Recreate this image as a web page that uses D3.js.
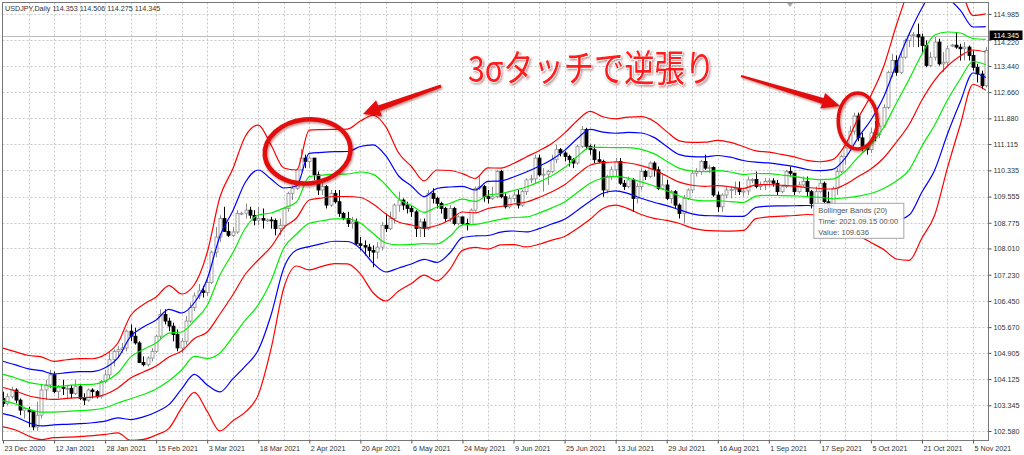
<!DOCTYPE html>
<html>
<head>
<meta charset="utf-8">
<script src="https://cdn.jsdelivr.net/npm/d3@7"></script>
<style>
    body { margin: 0; background: #fff; }
    svg { display: block; font-family: 'Liberation Sans', Arial, sans-serif; }
</style>
</head>
<body>
<svg id="chart" width="1024" height="455"></svg>
<script>
/* global d3 */
// date labels, one every 12 bars
const xLabels = ['23 Dec 2020', '12 Jan 2021', '28 Jan 2021', '15 Feb 2021', '3 Mar 2021', '18 Mar 2021',
    '2 Apr 2021', '20 Apr 2021', '6 May 2021', '24 May 2021', '9 Jun 2021', '25 Jun 2021', '13 Jul 2021',
    '29 Jul 2021', '16 Aug 2021', '1 Sep 2021', '17 Sep 2021', '5 Oct 2021', '21 Oct 2021', '5 Nov 2021'];
const labelEvery = 12;

const priceTicks = [102.580, 103.345, 104.125, 104.905, 105.670, 106.450, 107.230, 108.010, 108.775,
    109.555, 110.335, 111.115, 111.880, 112.660, 113.440, 114.220, 114.985];

// daily candles USDJPY, 23 Dec 2020 -> 10 Nov 2021
const open = [
    103.55, 103.40, 103.60, 103.80, 103.50, 103.20, 103.20, 103.15, 102.70, 103.05,
    103.80, 103.95, 104.25, 103.75, 103.88, 103.85, 103.85, 103.70, 103.90, 103.55,
    103.50, 103.80, 103.75, 103.60, 104.05, 104.25, 104.70, 104.95, 105.00, 105.05,
    105.55, 105.40, 105.20, 104.62, 104.55, 104.75, 104.95, 105.40, 106.05, 105.85,
    105.70, 105.45, 105.05, 105.25, 105.85, 106.25, 106.60, 106.75, 106.70, 107.00,
    107.90, 108.35, 108.90, 108.52, 108.40, 108.50, 109.05, 109.06, 109.15, 108.99,
    108.85, 108.90, 108.85, 108.86, 108.84, 108.60, 108.70, 109.20, 109.65, 109.80,
    110.35, 110.70, 110.60, 110.70, 110.20, 109.75, 109.85, 109.30, 109.65, 109.40,
    109.05, 108.90, 108.75, 108.80, 108.15, 108.10, 108.05, 107.95, 107.90, 108.05,
    108.70, 108.60, 108.90, 109.30, 109.45, 109.30, 109.20, 109.10, 108.60, 108.80,
    108.60, 109.65, 109.50, 109.35, 109.20, 108.90, 109.20, 108.75, 108.95, 108.75,
    108.73, 109.15, 109.80, 109.85, 109.55, 109.50, 109.55, 110.30, 109.55, 109.25,
    109.50, 109.60, 109.30, 109.70, 110.05, 110.08, 110.70, 110.20, 110.22, 110.30,
    110.65, 110.95, 110.85, 110.75, 110.65, 110.55, 111.05, 111.55, 111.05, 110.95,
    110.65, 110.60, 109.75, 110.15, 110.35, 110.60, 109.95, 109.85, 110.05, 109.50,
    109.85, 110.30, 110.15, 110.55, 110.35, 109.80, 109.90, 109.50, 109.70, 109.30,
    109.05, 109.50, 109.75, 110.25, 110.30, 110.60, 110.40, 110.42, 109.60, 109.25,
    109.60, 109.75, 109.76, 109.80, 109.70, 109.72, 110.05, 110.06, 109.85, 109.90,
    110.00, 110.02, 109.95, 109.70, 109.85, 110.30, 110.25, 109.70, 109.90, 110.00,
    109.70, 109.35, 109.70, 109.95, 109.40, 109.25, 109.80, 110.30, 110.75, 111.00,
    111.50, 111.95, 111.30, 111.05, 110.95, 111.45, 111.40, 111.65, 112.20, 113.25,
    113.60, 113.25, 113.70, 114.20, 114.35, 114.37, 114.30, 114.05, 113.45, 113.70,
    114.15, 113.50, 113.55, 114.05, 114.06, 114.00, 113.95, 114.00, 113.75, 113.40,
    113.20, 112.85
];
const high = [
    103.75, 103.70, 103.90, 103.85, 103.55, 103.30, 103.30, 103.20, 103.45, 103.95,
    104.10, 104.40, 104.35, 103.95, 104.10, 103.95, 103.95, 104.10, 103.95, 103.70,
    103.85, 103.85, 103.80, 104.10, 104.40, 104.95, 105.00, 105.10, 105.20, 105.60,
    105.75, 105.65, 105.25, 104.80, 104.80, 105.05, 105.45, 106.20, 106.20, 105.95,
    105.80, 105.60, 105.35, 106.00, 106.40, 106.70, 106.95, 106.90, 107.15, 107.95,
    108.65, 109.00, 109.25, 108.80, 108.65, 109.15, 109.10, 109.35, 109.25, 109.15,
    109.25, 109.20, 108.90, 108.95, 108.90, 108.90, 109.25, 109.70, 109.85, 110.40,
    110.97, 110.80, 110.75, 110.70, 110.30, 110.00, 109.90, 109.75, 109.75, 109.75,
    109.10, 109.10, 108.95, 108.90, 108.35, 108.25, 108.15, 108.10, 108.20, 108.80,
    109.05, 109.10, 109.35, 109.70, 109.50, 109.40, 109.30, 109.15, 108.90, 108.90,
    109.75, 109.80, 109.55, 109.40, 109.25, 109.30, 109.25, 109.00, 108.95, 108.90,
    109.20, 109.85, 110.20, 109.90, 109.75, 109.85, 110.35, 110.35, 109.65, 109.60,
    109.70, 109.75, 109.75, 110.10, 110.20, 110.80, 110.80, 110.40, 110.35, 110.80,
    111.10, 111.00, 110.90, 110.80, 110.70, 111.10, 111.65, 111.60, 111.10, 111.10,
    110.90, 110.65, 110.20, 110.45, 110.70, 110.70, 110.05, 110.15, 110.10, 109.95,
    110.40, 110.35, 110.60, 110.60, 110.45, 110.20, 110.05, 109.75, 109.75, 109.35,
    109.60, 109.80, 110.35, 110.40, 110.65, 110.80, 110.50, 110.45, 109.70, 109.65,
    109.85, 109.85, 110.00, 110.00, 109.80, 110.15, 110.10, 110.30, 110.00, 110.10,
    110.10, 110.10, 110.05, 109.90, 110.35, 110.45, 110.25, 110.00, 110.15, 110.15,
    109.75, 109.85, 110.05, 110.00, 109.70, 109.85, 110.40, 110.80, 111.05, 111.65,
    112.05, 112.05, 111.45, 111.10, 111.60, 111.80, 111.75, 112.30, 113.30, 113.80,
    113.75, 113.85, 114.25, 114.45, 114.45, 114.70, 114.40, 114.20, 113.85, 114.30,
    114.25, 113.85, 114.05, 114.10, 114.45, 114.10, 114.15, 114.05, 113.90, 113.50,
    113.30, 114.00
];
const low = [
    103.30, 103.35, 103.55, 103.40, 103.05, 102.95, 102.70, 102.60, 102.58, 102.95,
    103.50, 103.85, 103.70, 103.55, 103.65, 103.55, 103.55, 103.65, 103.50, 103.35,
    103.45, 103.55, 103.55, 103.55, 104.00, 104.15, 104.50, 104.75, 104.90, 104.95,
    105.25, 105.15, 104.60, 104.50, 104.50, 104.65, 104.90, 105.30, 105.75, 105.55,
    105.25, 104.95, 104.90, 105.15, 105.80, 106.15, 106.50, 106.55, 106.60, 106.95,
    107.75, 108.20, 108.50, 108.35, 108.35, 108.45, 109.00, 108.90, 108.90, 108.70,
    108.70, 108.60, 108.80, 108.60, 108.40, 108.40, 108.60, 109.10, 109.45, 109.75,
    110.30, 110.40, 110.40, 110.05, 109.60, 109.60, 109.20, 109.25, 109.35, 108.95,
    108.85, 108.65, 108.60, 108.10, 107.95, 107.80, 107.75, 107.45, 107.70, 107.95,
    108.50, 108.55, 108.75, 109.10, 109.15, 109.05, 108.95, 108.35, 108.35, 108.35,
    108.55, 109.35, 109.20, 109.05, 108.80, 108.80, 108.70, 108.70, 108.70, 108.55,
    108.70, 109.10, 109.75, 109.40, 109.35, 109.45, 109.50, 109.50, 109.20, 109.20,
    109.40, 109.20, 109.25, 109.60, 109.95, 109.95, 110.15, 109.70, 109.90, 110.25,
    110.55, 110.75, 110.60, 110.45, 110.40, 110.50, 111.00, 110.95, 110.80, 110.55,
    110.55, 109.55, 109.65, 110.05, 110.15, 109.90, 109.75, 109.80, 109.10, 109.35,
    109.75, 110.05, 110.10, 110.15, 109.75, 109.75, 109.45, 109.35, 109.20, 108.90,
    108.75, 109.45, 109.65, 110.15, 110.20, 110.35, 110.25, 109.55, 109.10, 109.10,
    109.50, 109.50, 109.60, 109.60, 109.55, 109.60, 109.95, 109.80, 109.75, 109.75,
    109.85, 109.85, 109.60, 109.65, 109.80, 110.15, 109.60, 109.65, 109.85, 109.55,
    109.20, 109.10, 109.65, 109.10, 109.15, 109.20, 109.60, 110.25, 110.50, 110.95,
    111.40, 111.20, 110.90, 110.80, 110.85, 111.20, 111.30, 111.60, 112.15, 113.10,
    113.15, 113.20, 113.65, 114.00, 114.00, 114.00, 113.80, 113.40, 113.40, 113.60,
    113.45, 113.25, 113.45, 114.00, 113.95, 113.60, 113.60, 113.60, 113.30, 112.95,
    112.75, 112.80
];
const close = [
    103.40, 103.60, 103.80, 103.50, 103.20, 103.25, 103.15, 102.70, 103.05, 103.80,
    103.95, 104.25, 103.75, 103.88, 103.85, 103.85, 103.70, 103.90, 103.55, 103.50,
    103.80, 103.75, 103.60, 104.05, 104.25, 104.70, 104.95, 105.00, 105.05, 105.55,
    105.40, 105.20, 104.62, 104.55, 104.75, 104.95, 105.40, 106.05, 105.85, 105.70,
    105.45, 105.05, 105.25, 105.85, 106.25, 106.60, 106.75, 106.70, 107.00, 107.90,
    108.35, 108.90, 108.52, 108.40, 108.50, 109.05, 109.06, 109.15, 109.00, 108.85,
    108.90, 108.85, 108.86, 108.84, 108.60, 108.70, 109.20, 109.65, 109.80, 110.35,
    110.70, 110.60, 110.70, 110.20, 109.75, 109.85, 109.30, 109.65, 109.40, 109.05,
    108.90, 108.75, 108.80, 108.15, 108.10, 108.05, 107.95, 107.90, 108.05, 108.70,
    108.60, 108.90, 109.30, 109.45, 109.30, 109.20, 109.10, 108.60, 108.80, 108.60,
    109.65, 109.50, 109.35, 109.20, 108.90, 109.20, 108.75, 108.95, 108.75, 108.73,
    109.15, 109.80, 109.85, 109.55, 109.50, 109.55, 110.30, 109.55, 109.25, 109.50,
    109.60, 109.30, 109.70, 110.05, 110.08, 110.70, 110.20, 110.22, 110.30, 110.65,
    110.95, 110.85, 110.75, 110.65, 110.55, 111.05, 111.55, 111.05, 110.95, 110.65,
    110.60, 109.75, 110.15, 110.35, 110.60, 109.95, 109.85, 110.05, 109.50, 109.85,
    110.30, 110.15, 110.55, 110.35, 109.80, 109.90, 109.50, 109.70, 109.30, 109.05,
    109.50, 109.75, 110.25, 110.30, 110.60, 110.40, 110.42, 109.60, 109.25, 109.60,
    109.75, 109.76, 109.80, 109.70, 109.72, 110.05, 110.06, 109.85, 109.90, 110.00,
    110.02, 109.95, 109.70, 109.85, 110.30, 110.25, 109.70, 109.90, 110.00, 109.70,
    109.35, 109.70, 109.95, 109.40, 109.25, 109.80, 110.30, 110.75, 111.00, 111.50,
    111.95, 111.30, 111.05, 110.95, 111.45, 111.40, 111.65, 112.20, 113.25, 113.60,
    113.25, 113.70, 114.20, 114.35, 114.37, 114.30, 114.05, 113.45, 113.70, 114.15,
    113.50, 113.55, 113.95, 114.06, 114.00, 113.95, 114.00, 113.75, 113.40, 113.20,
    112.85, 113.90
];

// Bollinger Bands (20): middle line and one deviation, read every 3 bars
const bbStep = 3;
const bbMid = [
    103.875, 103.771, 103.628, 103.554, 103.518, 103.548, 103.572, 103.587, 103.667, 103.860,
    104.158, 104.336, 104.515, 104.782, 104.961, 105.333, 105.526, 106.061, 106.627, 107.251,
    107.668, 108.054, 108.619, 108.917, 109.452, 109.512, 109.556, 109.556, 109.527, 109.333,
    109.036, 108.798, 108.709, 108.619, 108.694, 108.857, 109.095, 109.066, 109.199, 109.259,
    109.333, 109.393, 109.527, 109.696, 109.904, 110.211, 110.484, 110.562, 110.582, 110.553,
    110.475, 110.350, 110.166, 109.982, 109.890, 109.860, 109.878, 109.845, 109.794, 109.904,
    109.913, 109.890, 109.863, 109.824, 109.794, 109.779, 109.913, 110.148, 110.374, 110.701,
    111.177, 111.698, 112.427, 113.021, 113.438, 113.735, 113.914, 113.854
];
const bbDev = [
    0.390, 0.387, 0.399, 0.410, 0.378, 0.384, 0.387, 0.381, 0.396, 0.446,
    0.619, 0.669, 0.684, 0.708, 0.565, 0.535, 0.788, 1.160, 1.249, 1.368,
    1.338, 1.011, 0.595, 0.476, 0.693, 0.678, 0.666, 0.669, 0.758, 0.880,
    0.863, 0.684, 0.580, 0.467, 0.550, 0.491, 0.381, 0.342, 0.402, 0.381,
    0.402, 0.446, 0.464, 0.479, 0.512, 0.535, 0.535, 0.455, 0.428, 0.455,
    0.485, 0.482, 0.440, 0.410, 0.425, 0.437, 0.449, 0.440, 0.416, 0.336,
    0.321, 0.306, 0.291, 0.268, 0.265, 0.291, 0.396, 0.580, 0.729, 0.907,
    1.160, 1.347, 1.368, 1.338, 1.011, 0.684, 0.342, 0.378
];
const bandSigmas = [3, 2, 1, 0, -1, -2, -3];

const quote = ['114.353', '114.506', '114.275', '114.345'];
const lastPrice = 114.345;
const tooltipLines = ['Bollinger Bands (20)', 'Time: 2021.09.15 00:00', 'Value: 109.636'];
const noteText = '3σタッチで逆張り';

const bandColor = {3: '#ff0000', 2: '#0000ff', 1: '#00ee00', 0: '#ff0000'};

const svg = d3.select('#chart');
const plot = {left: 2.5, right: 988.5, top: 2.5, bottom: 440.5};

const x = d3.scaleLinear().domain([0, 228]).range([3, 973]);
const y = d3.scaleLinear().domain([102.58, 114.985]).range([431, 14]);

const defs = svg.append('defs');
defs.append('clipPath').attr('id', 'plotClip')
    .append('rect')
    .attr('x', plot.left).attr('y', plot.top)
    .attr('width', plot.right - plot.left).attr('height', plot.bottom - plot.top);
const shadow = defs.append('filter').attr('id', 'shade')
    .attr('x', '-20%').attr('y', '-20%').attr('width', '140%').attr('height', '140%');
shadow.append('feDropShadow')
    .attr('dx', 1.2).attr('dy', 1.5).attr('stdDeviation', 1)
    .attr('flood-color', '#700000').attr('flood-opacity', 0.45);

// grid
const grid = svg.append('g').attr('class', 'grid')
    .attr('stroke', '#c8c8c8').attr('stroke-dasharray', '2,2').attr('stroke-width', 1);
grid.selectAll('line.v')
    .data(d3.range(6, open.length, 6))
    .enter().append('line')
    .attr('x1', function (d) { return Math.round(x(d)) + 0.5; })
    .attr('x2', function (d) { return Math.round(x(d)) + 0.5; })
    .attr('y1', plot.top).attr('y2', plot.bottom);
grid.selectAll('line.h')
    .data(priceTicks)
    .enter().append('line')
    .attr('x1', plot.left).attr('x2', plot.right)
    .attr('y1', function (d) { return Math.round(y(d)) + 0.5; })
    .attr('y2', function (d) { return Math.round(y(d)) + 0.5; });

// current price line
svg.append('line')
    .attr('x1', plot.left).attr('x2', plot.right)
    .attr('y1', Math.round(y(lastPrice)) + 0.5).attr('y2', Math.round(y(lastPrice)) + 0.5)
    .attr('stroke', '#bdbdbd');

const chartArea = svg.append('g').attr('clip-path', 'url(#plotClip)');

// candles
const candles = d3.range(open.length).map(function (i) {
    return {i: i, o: open[i], h: high[i], l: low[i], c: close[i]};
});
const candle = chartArea.append('g').attr('class', 'candles')
    .selectAll('g')
    .data(candles)
    .enter().append('g');

candle.append('line')
    .attr('x1', function (d) { return Math.round(x(d.i)) + 0.5; })
    .attr('x2', function (d) { return Math.round(x(d.i)) + 0.5; })
    .attr('y1', function (d) { return y(d.h); })
    .attr('y2', function (d) { return y(d.l); })
    .attr('stroke', function (d) { return d.c >= d.o ? '#8a8a8a' : '#000'; });

candle.append('rect')
    .attr('x', function (d) { return Math.round(x(d.i)) - 1; })
    .attr('width', 3)
    .attr('y', function (d) { return y(Math.max(d.o, d.c)); })
    .attr('height', function (d) { return Math.max(1, Math.abs(y(d.o) - y(d.c))); })
    .attr('fill', function (d) { return d.c >= d.o ? '#fff' : '#000'; })
    .attr('stroke', function (d) { return d.c >= d.o ? '#8a8a8a' : '#000'; })
    .attr('stroke-width', 0.8);

// bands
const bandPoints = bbMid.map(function (m, j) {
    return {bar: j * bbStep, mid: m, dev: bbDev[j]};
});
const bands = chartArea.append('g').attr('class', 'bands').attr('fill', 'none');
bandSigmas.forEach(function (k) {
    const line = d3.line()
        .x(function (d) { return x(d.bar); })
        .y(function (d) { return y(d.mid + k * d.dev); })
        .curve(d3.curveMonotoneX);
    bands.append('path')
        .datum(bandPoints)
        .attr('d', line)
        .attr('stroke', bandColor[Math.abs(k)])
        .attr('stroke-width', 1.2);
});

// frame
svg.append('rect')
    .attr('x', plot.left).attr('y', plot.top)
    .attr('width', plot.right - plot.left).attr('height', plot.bottom - plot.top)
    .attr('fill', 'none').attr('stroke', '#777');

// axes
const yAxis = d3.axisRight(y)
    .tickValues(priceTicks)
    .tickFormat(d3.format('.3f'))
    .tickSize(3)
    .tickPadding(2);
const yAxisG = svg.append('g')
    .attr('transform', 'translate(' + plot.right + ',0)')
    .call(yAxis);

const xAxis = d3.axisBottom(x)
    .tickValues(xLabels.map(function (d, i) { return i * labelEvery; }))
    .tickFormat(function (d, i) { return xLabels[i]; })
    .tickSize(3)
    .tickPadding(2);
const xAxisG = svg.append('g')
    .attr('transform', 'translate(0,' + plot.bottom + ')')
    .call(xAxis);

[yAxisG, xAxisG].forEach(function (g) {
    g.select('.domain').remove();
    g.selectAll('line').attr('stroke', '#555');
    g.selectAll('text')
        .attr('font-family', '\'Liberation Sans\', Arial, sans-serif')
        .attr('font-size', 7.2)
        .attr('fill', '#333');
});
xAxisG.selectAll('text').attr('text-anchor', 'start').attr('x', 1);
// the price tag covers the upper half of this label, as in the terminal
yAxisG.selectAll('text')
    .filter(function (d) { return d === 114.220; })
    .attr('dy', '0.62em');

// current price tag
const tag = svg.append('g').attr('transform', 'translate(' + (plot.right + 1) + ',' + y(lastPrice) + ')');
tag.append('rect').attr('x', 0).attr('y', -5).attr('width', 33).attr('height', 9.5).attr('fill', '#000');
tag.append('text').attr('x', 4).attr('dy', '0.3em')
    .attr('font-size', 7.2).attr('fill', '#fff')
    .text(d3.format('.3f')(lastPrice));

// title
svg.append('text')
    .attr('x', 5).attr('y', 11)
    .attr('font-size', 7.2).attr('fill', '#333')
    .text('USDJPY,Daily  ' + quote.join(' '));

// chart shift marker
svg.append('path')
    .attr('d', 'M787,3L793,3L790,7Z')
    .attr('fill', '#aaa');

// tooltip
const tip = svg.append('g')
    .attr('transform', 'translate(' + (x(190) + 2) + ',' + (y(109.636) + 9) + ')');
tip.append('rect')
    .attr('x', 0.5).attr('y', 0.5).attr('width', 90).attr('height', 35)
    .attr('fill', '#fff').attr('fill-opacity', 0.92).attr('stroke', '#a6a6a6');
tip.selectAll('text')
    .data(tooltipLines)
    .enter().append('text')
    .attr('x', 5)
    .attr('y', function (d, i) { return 10 + i * 11; })
    .attr('font-size', 7.6).attr('fill', '#555')
    .text(function (d) { return d; });

// annotations
function arrowPath(x1, y1, x2, y2, tailW, shaftW, headW, headLen) {
    const dx = x2 - x1, dy = y2 - y1, len = Math.hypot(dx, dy);
    const ux = dx / len, uy = dy / len, nx = -uy, ny = ux;
    const bx = x2 - ux * headLen, by = y2 - uy * headLen;
    const pts = [
        [x1 + nx * tailW / 2, y1 + ny * tailW / 2],
        [bx + nx * shaftW / 2, by + ny * shaftW / 2],
        [bx + nx * headW / 2, by + ny * headW / 2],
        [x2, y2],
        [bx - nx * headW / 2, by - ny * headW / 2],
        [bx - nx * shaftW / 2, by - ny * shaftW / 2],
        [x1 - nx * tailW / 2, y1 - ny * tailW / 2]
    ];
    return 'M' + pts.map(function (p) { return p[0].toFixed(1) + ',' + p[1].toFixed(1); }).join('L') + 'Z';
}

const notes = svg.append('g').attr('class', 'notes').attr('filter', 'url(#shade)');
notes.append('ellipse')
    .attr('cx', x(71.6)).attr('cy', y(110.9))
    .attr('rx', 43).attr('ry', 32)
    .attr('transform', 'rotate(-6,' + x(71.6) + ',' + y(110.9) + ')')
    .attr('fill', 'none').attr('stroke', '#e3100c').attr('stroke-width', 4.5);
notes.append('ellipse')
    .attr('cx', x(200.9)).attr('cy', y(111.8))
    .attr('rx', 19.5).attr('ry', 28)
    .attr('fill', 'none').attr('stroke', '#e3100c').attr('stroke-width', 3.5);
notes.append('path')
    .attr('d', arrowPath(441, 86, 363, 114, 3, 6, 17, 17))
    .attr('fill', '#e3100c');
notes.append('path')
    .attr('d', arrowPath(741, 76, 840, 106, 2, 6, 16, 18))
    .attr('fill', '#e3100c');
notes.append('text')
    .attr('x', 468).attr('y', 82)
    .attr('font-family', '\'Noto Sans CJK JP\', sans-serif')
    .attr('font-size', 37)
    .attr('textLength', 247)
    .attr('lengthAdjust', 'spacingAndGlyphs')
    .attr('fill', '#ff1a1a')
    .attr('stroke', '#fff').attr('stroke-width', 1.5).attr('paint-order', 'stroke')
    .text(noteText);
</script>
</body>
</html>
